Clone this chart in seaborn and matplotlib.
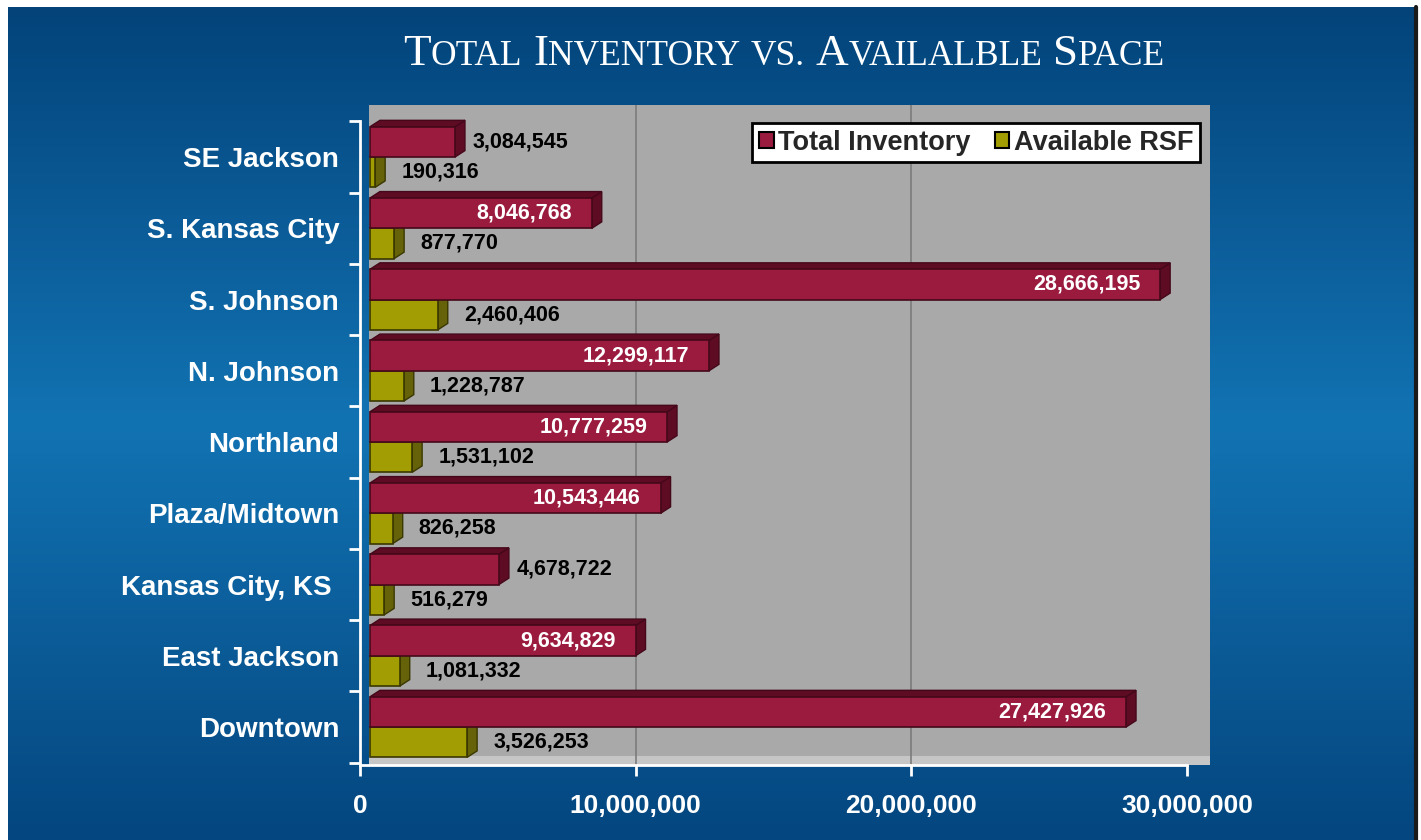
import numpy as np
import pandas as pd
import seaborn as sns
import matplotlib.pyplot as plt
from matplotlib.colors import LinearSegmentedColormap
from matplotlib.patches import Patch, Polygon, Rectangle
from matplotlib.lines import Line2D
from matplotlib.ticker import FuncFormatter
from matplotlib.transforms import ScaledTranslation

# data
regions = ['SE Jackson', 'S. Kansas City', 'S. Johnson', 'N. Johnson', 'Northland',
           'Plaza/Midtown', 'Kansas City, KS ', 'East Jackson', 'Downtown']
total_inventory = [3084545, 8046768, 28666195, 12299117, 10777259,
                   10543446, 4678722, 9634829, 27427926]
available_rsf = [190316, 877770, 2460406, 1228787, 1531102,
                 826258, 516279, 1081332, 3526253]
series = ['Total Inventory', 'Available RSF']
x_ticks = [0, 10000000, 20000000, 30000000]
title = 'Total Inventory vs. Availalble Space'

df = pd.DataFrame({
    'region': regions * 2,
    'value': total_inventory + available_rsf,
    'series': [series[0]] * len(regions) + [series[1]] * len(regions),
})

RED = '#9b1b3f'
OLIVE = '#a29d02'
RED_DARK = '#5e0c24'
OLIVE_DARK = '#65620a'

sns.set_theme(style='white')
plt.rcParams['font.family'] = ['Liberation Sans', 'DejaVu Sans']

W, H = 1421, 840
fig = plt.figure(figsize=(W / 100, H / 100), dpi=100)
fig.patch.set_facecolor('white')

# blue gradient background
bg = fig.add_axes([8 / W, 0, 1407 / W, 833 / H], zorder=-10)
cmap = LinearSegmentedColormap.from_list(
    'bg', [(0, '#03437a'), (0.5, '#1273b3'), (1, '#04467f')])
bg.imshow(np.linspace(0, 1, 256).reshape(-1, 1), aspect='auto', cmap=cmap,
          extent=[0, 1, 0, 1])
bg.axis('off')
fig.add_artist(Line2D([1416 / W] * 2, [0, 833 / H], color='#1a1a1a', lw=3,
                      transform=fig.transFigure))

ax = fig.add_axes([360 / W, 75 / H, 850 / W, 660 / H])
ax.set_facecolor('none')

sns.barplot(data=df, y='region', x='value', hue='series', orient='h',
            palette=[RED, OLIVE], width=0.85, saturation=1, linewidth=1.2,
            ax=ax, legend=False)

ax.set_xlim(0, 3e7 * 850 / 827)
ax.set_ylim(8.533, -0.73)

# gray back wall and floor
ax.add_patch(Rectangle((9 / 850, 0), 1 - 9 / 850, 1, transform=ax.transAxes,
                       facecolor='#a9a9a9', edgecolor='none', zorder=0.2))
ax.add_patch(Rectangle((9 / 850, 0), 1 - 9 / 850, 0.014, transform=ax.transAxes,
                       facecolor='#c6c6c6', edgecolor='none', zorder=0.5))
for xv in x_ticks[1:-1]:
    ax.axvline(xv, color='#7c7c7c', lw=1.2, zorder=0.6)

# fake 3D faces on the bars, shifted right like the original depth effect
shift = ax.transData + ScaledTranslation(10 / 100, 0, fig.dpi_scale_trans)
dx = 0.36e6
dy = 0.09
styles = [(RED_DARK, '#45081a', 3), (OLIVE_DARK, '#3a3800', 2)]
for cont, (dark, edge, z) in zip(ax.containers, styles):
    for p in cont:
        p.set_edgecolor(edge)
        p.set_zorder(z + 0.5)
        p.set_transform(shift)
        x0, y0 = p.get_x(), p.get_y()
        x1, y1 = x0 + p.get_width(), y0 + p.get_height()
        side = Polygon([(x1, y0), (x1 + dx, y0 - dy), (x1 + dx, y1 - dy), (x1, y1)],
                       closed=True, facecolor=dark, edgecolor=edge, lw=1, zorder=z + 0.4)
        top = Polygon([(x0, y0), (x0 + dx, y0 - dy), (x1 + dx, y0 - dy), (x1, y0)],
                      closed=True, facecolor=dark, edgecolor=edge, lw=1, zorder=z + 0.4)
        for poly in (side, top):
            ax.add_patch(poly)
            poly.set_transform(shift)

# value labels
for p, v in zip(ax.containers[0], total_inventory):
    yc = p.get_y() + p.get_height() / 2
    if v > 5e6:
        ax.annotate(f'{v:,}', (v, yc), xytext=(-10, 0), textcoords='offset pixels',
                    ha='right', va='center', color='white', fontsize=15.5,
                    fontweight='bold', zorder=6)
    else:
        ax.annotate(f'{v:,}', (v, yc), xytext=(28, 0), textcoords='offset pixels',
                    ha='left', va='center', color='black', fontsize=15.5,
                    fontweight='bold', zorder=6)
for p, v in zip(ax.containers[1], available_rsf):
    yc = p.get_y() + p.get_height() / 2
    ax.annotate(f'{v:,}', (v, yc), xytext=(36, 0), textcoords='offset pixels',
                ha='left', va='center', color='black', fontsize=15.5,
                fontweight='bold', zorder=6)

# axes styling
for s in ['top', 'right']:
    ax.spines[s].set_visible(False)
for s in ['left', 'bottom']:
    ax.spines[s].set_color('white')
    ax.spines[s].set_linewidth(2)
ax.spines['left'].set_bounds(-0.5, len(regions) - 0.5)
ax.spines['bottom'].set_bounds(x_ticks[0], x_ticks[-1])

ax.set_yticks(range(len(regions)))
ax.set_yticklabels(regions)
ax.set_yticks(np.arange(-0.5, len(regions), 1), minor=True)
ax.tick_params(axis='y', which='major', length=0, pad=15, labelsize=20,
               labelcolor='white')
ax.tick_params(axis='y', which='minor', length=8, width=2, color='white',
               direction='out', left=True)
ax.set_xticks(x_ticks)
ax.xaxis.set_major_formatter(FuncFormatter(lambda v, _: f'{v:,.0f}'))
ax.tick_params(axis='x', length=8, width=2, color='white', direction='out',
               bottom=True, labelsize=19, labelcolor='white', pad=13)
for lbl in ax.get_xticklabels() + ax.get_yticklabels():
    lbl.set_fontweight('bold')
ax.set_xlabel('')
ax.set_ylabel('')

# legend
handles = [Patch(facecolor=RED, edgecolor='black', lw=1.5),
           Patch(facecolor=OLIVE, edgecolor='black', lw=1.5)]
leg = ax.legend(handles, series, ncol=2, loc='upper right',
                bbox_to_anchor=(0.988, 0.973), borderaxespad=0, frameon=True,
                fancybox=False, framealpha=1, edgecolor='black',
                handlelength=0.55, handleheight=0.55, handletextpad=0.15,
                columnspacing=0.9, borderpad=0.25,
                prop={'size': 19.5, 'weight': 'bold'})
leg.get_frame().set_linewidth(2)
leg.set_zorder(10)

# small-caps title built from pieces
renderer = fig.canvas.get_renderer()
big, small = 32.5, 25.5
pieces = []
for word in title.split():
    if word[0].isupper():
        pieces.append((word[0], big))
        pieces.append((word[1:].upper(), small))
    else:
        pieces.append((word.upper(), small))
    pieces.append((' ', small))
pieces = pieces[:-1]

texts = []
total_w = 0
for s, size in pieces:
    if s == ' ':
        w = size * 100 / 72 * 0.3
        texts.append((None, w))
    else:
        t = fig.text(0, 0, s, fontsize=size, family='Liberation Serif',
                     color='white', va='baseline', ha='left')
        w = t.get_window_extent(renderer).width
        texts.append((t, w))
    total_w += w
x = 784 - total_w / 2
base = (H - 65) / H
for t, w in texts:
    if t is not None:
        t.set_position((x / W, base))
    x += w

fig.savefig('out.png', dpi=100)
